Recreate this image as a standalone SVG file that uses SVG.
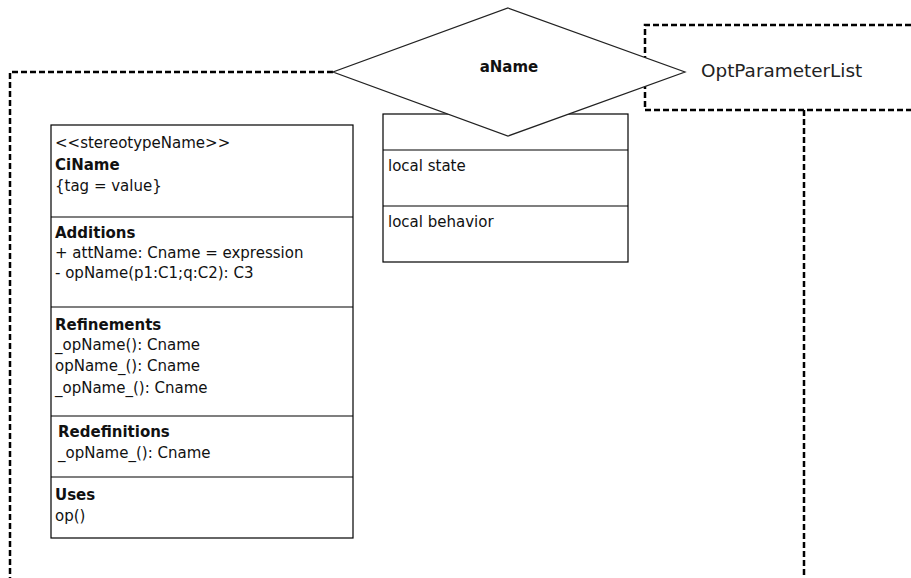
<svg xmlns="http://www.w3.org/2000/svg" width="911" height="578" viewBox="0 0 911 578">
  <style>
    .box { fill: #ffffff; stroke: #000000; stroke-width: 1.2; }
    .sep { stroke: #000000; stroke-width: 1.2; }
    .dash { fill: none; stroke: #000000; stroke-width: 2.5; stroke-dasharray: 6 3; }
    .t { font-family: "DejaVu Sans", "Liberation Sans", sans-serif; font-size: 15px; fill: #111111; }
    .b { font-weight: bold; }
    .big { font-family: "DejaVu Sans", "Liberation Sans", sans-serif; font-size: 18.4px; fill: #222222; }
  </style>
  <rect width="911" height="578" fill="#ffffff"/>

  <g id="connectors">
    <!-- outer frame from the diamond down the left side -->
    <polyline class="dash" points="333,72 10,72 10,578"/>
    <!-- parameter list frame -->
    <polyline class="dash" points="911,25 645,25 645,110 911,110"/>
    <!-- frame edge under the parameter list -->
    <line class="dash" x1="804" y1="110" x2="804" y2="578"/>
  </g>

  <g id="classifier">
    <rect class="box" x="51" y="125" width="302" height="413"/>
    <line class="sep" x1="51" y1="217" x2="353" y2="217"/>
    <line class="sep" x1="51" y1="307" x2="353" y2="307"/>
    <line class="sep" x1="51" y1="416" x2="353" y2="416"/>
    <line class="sep" x1="51" y1="477" x2="353" y2="477"/>
    <text class="t" x="55" y="148">&lt;&lt;stereotypeName&gt;&gt;</text>
    <text class="t b" x="55" y="170">CiName</text>
    <text class="t" x="55" y="191">{tag = value}</text>
    <text class="t b" x="55" y="238">Additions</text>
    <text class="t" x="55" y="258">+ attName: Cname = expression</text>
    <text class="t" x="55" y="278">- opName(p1:C1;q:C2): C3</text>
    <text class="t b" x="55" y="330">Refinements</text>
    <text class="t" x="55" y="350">_opName(): Cname</text>
    <text class="t" x="55" y="371">opName_(): Cname</text>
    <text class="t" x="55" y="393">_opName_(): Cname</text>
    <text class="t b" x="58" y="437">Redefinitions</text>
    <text class="t" x="58" y="458">_opName_(): Cname</text>
    <text class="t b" x="55" y="500">Uses</text>
    <text class="t" x="55" y="521">op()</text>
  </g>

  <g id="local">
    <rect class="box" x="383" y="114" width="245" height="148"/>
    <line class="sep" x1="383" y1="150" x2="628" y2="150"/>
    <line class="sep" x1="383" y1="206" x2="628" y2="206"/>
    <text class="t" x="388" y="171">local  state</text>
    <text class="t" x="388" y="227">local  behavior</text>
  </g>

  <g id="aName">
    <polygon points="508,8 685,72 508,136 333,72" fill="#ffffff" stroke="#222222" stroke-width="1.2"/>
    <text class="t b" x="509" y="72" text-anchor="middle">aName</text>
  </g>

  <g id="optParameterList">
    <text class="big" x="701" y="77">OptParameterList</text>
  </g>
</svg>
